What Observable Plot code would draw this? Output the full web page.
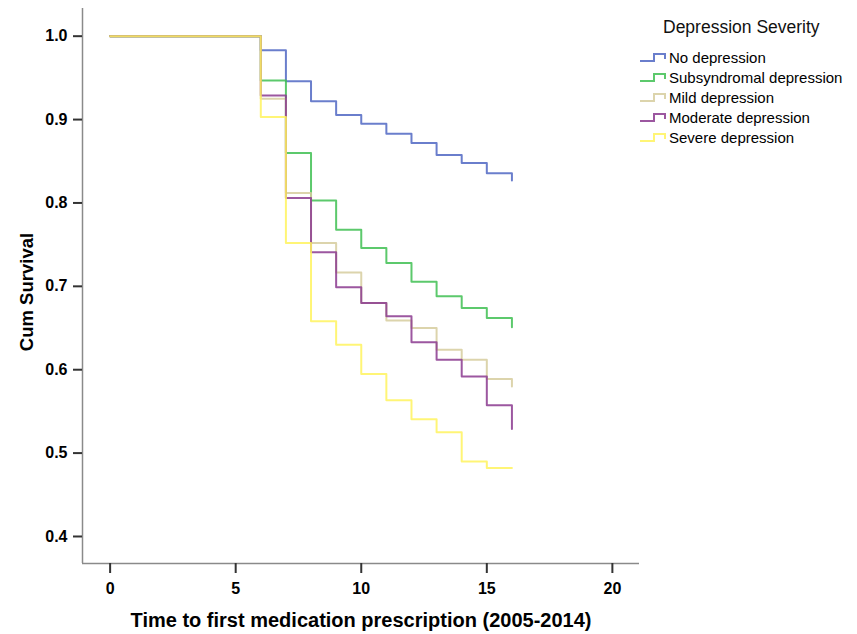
<!DOCTYPE html>
<html>
<head>
<meta charset="utf-8">
<script src="https://cdn.jsdelivr.net/npm/d3@7"></script>
<script src="https://cdn.jsdelivr.net/npm/@observablehq/plot@0.6"></script>
<style>
  html, body { margin: 0; padding: 0; background: #fff; }
  #wrap { position: relative; width: 857px; height: 634px; font-family: "Liberation Sans", Arial, sans-serif; }
  #legend { position: absolute; left: 0; top: 0; }
</style>
</head>
<body>
<div id="wrap"></div>
<script>
// ---- data ----
const times = [0, 6, 7, 8, 9, 10, 11, 12, 13, 14, 15, 16];
const seriesNames = ["No depression", "Subsyndromal depression", "Mild depression", "Moderate depression", "Severe depression"];
const noDepression   = [1.0, 0.983, 0.946, 0.922, 0.9055, 0.895, 0.883, 0.872, 0.8575, 0.848, 0.8355, 0.827];
const subsyndromal   = [1.0, 0.947, 0.860, 0.803, 0.768, 0.746, 0.728, 0.7055, 0.688, 0.674, 0.662, 0.651];
const mild           = [1.0, 0.925, 0.812, 0.752, 0.7167, 0.680, 0.659, 0.650, 0.624, 0.612, 0.589, 0.580];
const moderate       = [1.0, 0.929, 0.806, 0.741, 0.699, 0.680, 0.664, 0.633, 0.612, 0.592, 0.5575, 0.529];
const severe         = [1.0, 0.903, 0.752, 0.658, 0.630, 0.595, 0.5634, 0.5406, 0.525, 0.490, 0.482, 0.482];
const seriesColors = ["#5067c3", "#3fbf52", "#d6cd9e", "#8b3a8f", "#fff35e"];
const xTicks = [0, 5, 10, 15, 20];
const yTicks = [0.4, 0.5, 0.6, 0.7, 0.8, 0.9, 1.0];
const xTitle = "Time to first medication prescription (2005-2014)";
const yTitle = "Cum Survival";
const legendTitle = "Depression Severity";

const allSeries = [noDepression, subsyndromal, mild, moderate, severe];
const rows = [];
allSeries.forEach((vals, i) => {
  vals.forEach((v, j) => rows.push({series: seriesNames[i], t: times[j], s: v}));
});

const xDomain = [-1.1, 21.08];
const yDomain = [0.3676, 1.0332];
const font = '"Liberation Sans", Arial, sans-serif';

const chart = Plot.plot({
  width: 857,
  height: 634,
  marginLeft: 82,
  marginRight: 218,
  marginTop: 8,
  marginBottom: 71,
  style: {fontFamily: font, background: "#fff", color: "#000"},
  x: {domain: xDomain, ticks: xTicks},
  y: {domain: yDomain, ticks: yTicks},
  color: {domain: seriesNames, range: seriesColors},
  marks: [
    Plot.ruleX([xDomain[0]], {stroke: "#8a8a8a", strokeWidth: 1.5}),
    Plot.ruleY([yDomain[0]], {stroke: "#8a8a8a", strokeWidth: 1.5}),
    Plot.axisX({ticks: xTicks, tickSize: 10, tickPadding: 9, tickFormat: d => String(d), label: null,
      fontSize: 16, fontWeight: "bold", stroke: "#333", strokeWidth: 2}),
    Plot.axisY({ticks: yTicks, tickSize: 9, tickPadding: 6, tickFormat: d3.format(".1f"), label: null,
      fontSize: 16, fontWeight: "bold", stroke: "#333", strokeWidth: 2}),
    Plot.line(rows, {x: "t", y: "s", z: "series", stroke: "series", curve: "step-after",
      strokeWidth: 2, strokeOpacity: 0.85}),
    Plot.text([xTitle], {frameAnchor: "bottom", dy: 63, fontSize: 20, fontWeight: "bold", fill: "#000"}),
    Plot.text([yTitle], {frameAnchor: "left", textAnchor: "middle", dx: -55, dy: 6, rotate: -90,
      fontSize: 18.5, fontWeight: "bold", fill: "#000"})
  ]
});
document.getElementById("wrap").appendChild(chart);

// ---- legend overlay ----
const lg = d3.select("#wrap").append("svg")
  .attr("id", "legend").attr("width", 857).attr("height", 634)
  .style("pointer-events", "none");
lg.append("text").attr("x", 663).attr("y", 27).attr("dy", "0.35em")
  .attr("font-family", font).attr("font-size", 17.5).attr("fill", "#111").text(legendTitle);
seriesNames.forEach((name, i) => {
  const cy = 58 + i * 20;
  lg.append("path")
    .attr("d", `M640,${cy + 3}H654V${cy - 4}H665V${cy + 1}`)
    .attr("fill", "none").attr("stroke", seriesColors[i]).attr("stroke-width", 2).attr("stroke-opacity", 0.85);
  lg.append("text").attr("x", 669).attr("y", cy).attr("dy", "0.35em")
    .attr("font-family", font).attr("font-size", 15).attr("fill", "#000").text(name);
});
</script>
</body>
</html>
